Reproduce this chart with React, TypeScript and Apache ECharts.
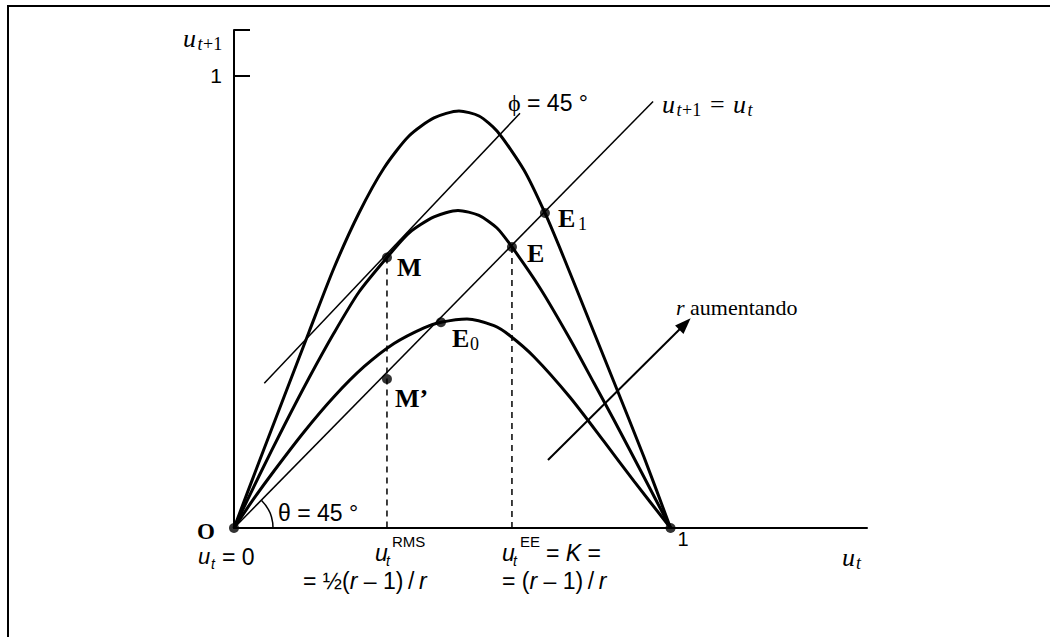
import React, { useEffect, useRef } from "react";
import * as echarts from "echarts";

// Growth curves u_{t+1} = f(u_t) for three values of r, sampled along u_t
const upperCurve: [number, number][] = [
  [0, 0], [0.0573, 0.1458], [0.1145, 0.2894], [0.1718, 0.433], [0.229, 0.5743],
  [0.2863, 0.6958], [0.3436, 0.7952], [0.4008, 0.8659], [0.4581, 0.9057], [0.5153, 0.9211],
  [0.5612, 0.9101], [0.6024, 0.877], [0.6642, 0.7908], [0.7123, 0.6958], [0.7558, 0.5964],
  [0.8131, 0.4595], [0.8704, 0.3225], [0.9391, 0.1568], [1, 0],
];
const middleCurve: [number, number][] = [
  [0, 0], [0.0573, 0.1149], [0.1145, 0.2253], [0.1718, 0.3313], [0.229, 0.4307],
  [0.2863, 0.5213], [0.3504, 0.5975], [0.4008, 0.6516], [0.4581, 0.687], [0.5131, 0.7014],
  [0.5612, 0.6903], [0.6024, 0.6627], [0.6367, 0.6207], [0.7009, 0.5302], [0.7696, 0.4175],
  [0.8245, 0.3203], [0.8704, 0.2386], [0.9391, 0.1127], [1, 0],
];
const lowerCurve: [number, number][] = [
  [0, 0], [0.0458, 0.0652], [0.0916, 0.1259], [0.1603, 0.2121], [0.229, 0.2899],
  [0.2978, 0.3562], [0.3665, 0.4076], [0.4352, 0.4423], [0.4741, 0.4544], [0.5337, 0.4617],
  [0.5955, 0.4468], [0.6322, 0.4247], [0.6871, 0.3783], [0.7696, 0.2888], [0.8475, 0.1912],
  [0.9162, 0.1034], [1, 0],
];

// Straight reference lines
const identityLine: [number, number][] = [[0, 0], [0.96, 0.942]];
const tangentLine: [number, number][] = [[0.0694, 0.3196], [0.6551, 0.9161]];
const arrowStart: [number, number] = [0.7192, 0.1502];
const arrowEnd: [number, number] = [1.033, 0.4506];

// Marked points
const pointNames = ["O", "M", "M'", "E", "E0", "E1", "K1"];
const pointValues: [number, number][] = [
  [0, 0], [0.3504, 0.5975], [0.3504, 0.3291], [0.6367, 0.6207],
  [0.4741, 0.4544], [0.7123, 0.6958], [1, 0],
];

// Axis ticks that carry a label
const xTickLabels = [1];
const yTickLabels = [1];

const SERIF = '"Liberation Serif", "Times New Roman", serif';
const SANS = '"Liberation Sans", Arial, sans-serif';
const THIN = "\u2009";

function pt(name: string): [number, number] {
  return pointValues[pointNames.indexOf(name)];
}

function txt(
  x: number,
  baseline: number,
  text: string,
  size: number,
  family: string,
  opts: { italic?: boolean; bold?: boolean; rich?: Record<string, any> } = {}
) {
  const font = `${opts.italic ? "italic " : ""}${opts.bold ? "bold " : ""}${size}px ${family}`;
  const style: any = {
    text,
    font,
    fill: "#000",
    align: "left",
    verticalAlign: "middle",
    textAlign: "left",
    textVerticalAlign: "middle",
  };
  if (opts.rich) style.rich = opts.rich;
  return { type: "text", x, y: baseline - 0.32 * size, silent: true, style };
}

function buildOption() {
  const curveStyle = { color: "#000", width: 3 };
  const thin = { color: "#000", width: 1.5 };
  const mPt = pt("M");
  const ePt = pt("E");
  const plain = (name: string, data: [number, number][], lineStyle: any, smooth: number | boolean = false) => ({
    name,
    type: "line",
    data,
    smooth,
    symbol: "none",
    lineStyle,
    silent: true,
    z: 3,
  });
  return {
    animation: false,
    backgroundColor: "#fff",
    grid: { left: 234, top: 30, right: 183, bottom: 109, containLabel: false },
    xAxis: {
      type: "value",
      min: 0,
      max: 1.45,
      interval: 1,
      axisLine: { show: true, onZero: false, lineStyle: { color: "#000", width: 2 } },
      axisTick: { show: false },
      splitLine: { show: false },
      axisLabel: {
        show: true,
        formatter: (v: number) => (xTickLabels.includes(v) ? String(v) : ""),
        color: "#000",
        fontSize: 20,
        fontFamily: SANS,
        align: "left",
        padding: [0, 0, 0, 7],
        margin: 1,
      },
    },
    yAxis: {
      type: "value",
      min: 0,
      max: 1.1,
      interval: 1,
      axisLine: { show: true, onZero: false, lineStyle: { color: "#000", width: 2 } },
      axisTick: { show: true, inside: true, length: 16, lineStyle: { color: "#000", width: 2 } },
      splitLine: { show: false },
      axisLabel: {
        formatter: (v: number) => (yTickLabels.includes(v) ? String(v) : ""),
        color: "#000",
        fontSize: 21,
        fontFamily: SANS,
        margin: 12,
      },
    },
    series: [
      plain("upper", upperCurve, curveStyle, 0.25),
      plain("middle", middleCurve, curveStyle, 0.25),
      plain("lower", lowerCurve, curveStyle, 0.25),
      plain("identity", identityLine, thin),
      plain("tangent", tangentLine, thin),
      plain("dropM", [mPt, [mPt[0], 0]], { color: "#000", width: 1.5, type: [6, 5] }),
      plain("dropE", [ePt, [ePt[0], 0]], { color: "#000", width: 1.5, type: [6, 5] }),
      {
        name: "arrow",
        type: "line",
        data: [],
        silent: true,
        markLine: {
          silent: true,
          symbol: ["none", "triangle"],
          symbolSize: [12, 16],
          label: { show: false },
          lineStyle: { color: "#000", width: 2, type: "solid" },
          emphasis: { disabled: true },
          data: [[{ coord: arrowStart }, { coord: arrowEnd }]],
        },
      },
      {
        name: "points",
        type: "scatter",
        data: pointValues,
        symbol: "circle",
        symbolSize: 10,
        itemStyle: { color: "#000" },
        silent: true,
        z: 5,
      },
    ],
  };
}

function buildGraphic(ox: number, oy: number) {
  const serifRich = {
    n: { font: `22px ${SERIF}`, fill: "#000" },
    i: { font: `italic 22px ${SERIF}`, fill: "#000" },
  };
  const sansRich = {
    n: { font: `23px ${SANS}`, fill: "#000" },
    i: { font: `italic 23px ${SANS}`, fill: "#000" },
  };
  const greekRich = {
    s: { font: `24px ${SERIF}`, fill: "#000" },
    n: { font: `23px ${SANS}`, fill: "#000" },
  };
  return [
    // page frame
    {
      type: "rect",
      silent: true,
      shape: { x: 8, y: 6, width: 1300, height: 900 },
      style: { fill: "none", stroke: "#000", lineWidth: 2 },
    },
    // angle of the identity line
    {
      type: "arc",
      silent: true,
      shape: { cx: ox, cy: oy, r: 39, startAngle: -Math.PI / 4, endAngle: 0, clockwise: true },
      style: { fill: "none", stroke: "#000", lineWidth: 1.5 },
    },
    // vertical axis title u_{t+1}
    txt(183, 47, "u", 26, SERIF, { italic: true }),
    txt(197.5, 50, "t", 18, SERIF, { italic: true }),
    txt(203, 50, "+1", 18, SERIF),
    // identity line caption u_{t+1} = u_t
    txt(662, 113, "u", 26, SERIF, { italic: true }),
    txt(676.5, 116, "t", 18, SERIF, { italic: true }),
    txt(682, 116, "+1", 18, SERIF),
    txt(710, 113, "=", 26, SERIF),
    txt(733, 113, "u", 26, SERIF, { italic: true }),
    txt(747.5, 116, "t", 18, SERIF, { italic: true }),
    // tangent slope
    txt(508, 110, "{s|ϕ}{n| = 45 °}", 23, SANS, { rich: greekRich }),
    // angle at origin
    txt(278, 520, "{n|θ = 45 °}", 23, SANS, { rich: greekRich }),
    // origin
    txt(197, 539, "O", 23, SERIF, { bold: true }),
    txt(198, 564, "u", 22, SANS, { italic: true }),
    txt(211, 568, "t", 14, SANS, { italic: true }),
    txt(222, 564, "= 0", 23, SANS),
    // maximum sustainable yield
    txt(375, 560, "u", 23, SANS, { italic: true }),
    txt(386, 565, "t", 14, SANS, { italic: true }),
    txt(392, 546, "RMS", 15, SANS),
    txt(303, 588, `{n|= ½(}{i|r}{n| – 1)${THIN}/${THIN}}{i|r}`, 23, SANS, { rich: sansRich }),
    // equilibrium
    txt(502, 560, "u", 23, SANS, { italic: true }),
    txt(513, 565, "t", 14, SANS, { italic: true }),
    txt(520, 546, "EE", 15, SANS),
    txt(546, 560, `{n|= }{i|K}{n| =}`, 23, SANS, { rich: sansRich }),
    txt(502, 588, `{n|= (}{i|r}{n| – 1)${THIN}/${THIN}}{i|r}`, 23, SANS, { rich: sansRich }),
    // horizontal axis title u_t
    txt(842, 566, "u", 26, SERIF, { italic: true }),
    txt(856, 569, "t", 18, SERIF, { italic: true }),
    // point names
    txt(397, 276, "M", 26, SERIF, { bold: true }),
    txt(395, 407, "M’", 26, SERIF, { bold: true }),
    txt(527, 262, "E", 26, SERIF, { bold: true }),
    txt(452, 347, "E", 26, SERIF, { bold: true }),
    txt(470, 350, "0", 18, SERIF),
    txt(558, 227, "E", 26, SERIF, { bold: true }),
    txt(578, 230, "1", 18, SERIF),
    // direction of increasing r
    txt(676, 315, "{i|r}{n| aumentando}", 22, SERIF, { rich: serifRich }),
  ];
}

export default function App() {
  const ref = useRef<HTMLDivElement>(null);
  useEffect(() => {
    const el = ref.current;
    if (!el) return;
    const chart = echarts.init(el, null, { renderer: "svg" });
    chart.setOption(buildOption() as any);
    const origin = chart.convertToPixel({ gridIndex: 0 }, [0, 0]) as number[];
    chart.setOption({ graphic: buildGraphic(origin[0], origin[1]) } as any);
    return () => chart.dispose();
  }, []);
  return (
    <div
      ref={ref}
      style={{ position: "fixed", left: 0, top: 0, width: 1050, height: 637, background: "#fff" }}
    />
  );
}
